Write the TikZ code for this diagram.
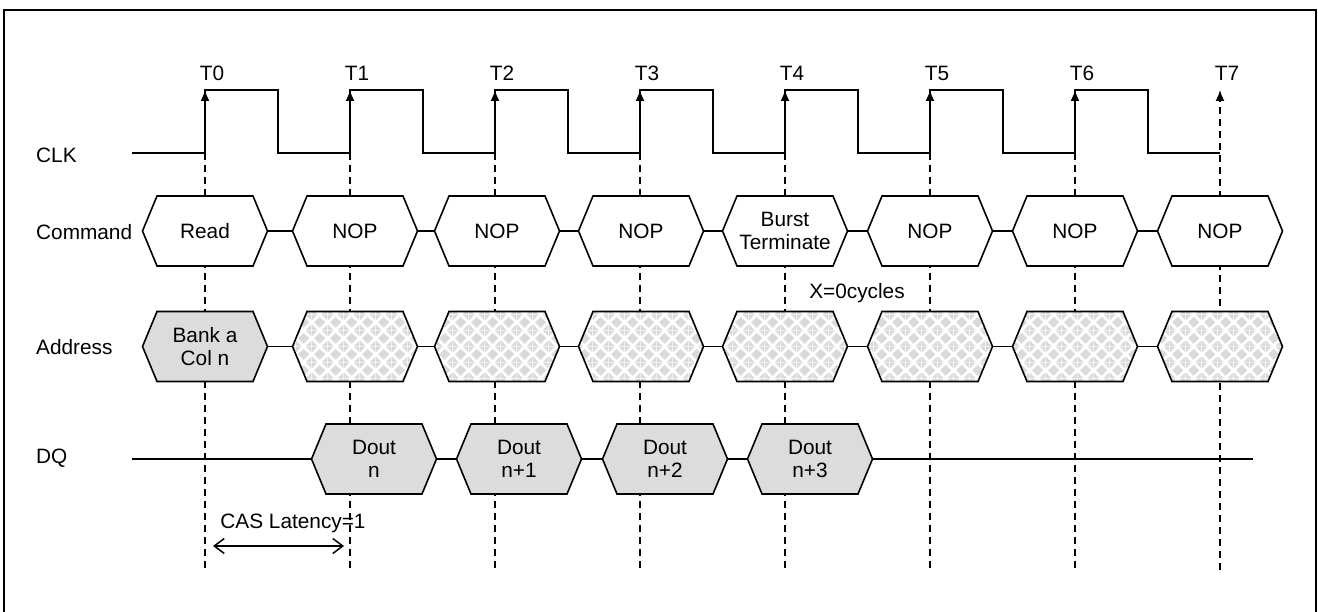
\documentclass[tikz,border=0pt]{standalone}
\usepackage{fontspec}
\setmainfont{Liberation Sans}
\usetikzlibrary{shapes.symbols,arrows.meta,patterns}
\definecolor{hexgray}{HTML}{DCDCDC}
\definecolor{patgray}{HTML}{DADADA}
\pgfdeclarepatternformonly{chkdiam}{\pgfpointorigin}{\pgfqpoint{15.6pt}{15.6pt}}{\pgfqpoint{15.6pt}{15.6pt}}{%
  \pgfpathmoveto{\pgfqpoint{7.8pt}{2.2pt}}\pgfpathlineto{\pgfqpoint{13.4pt}{7.8pt}}\pgfpathlineto{\pgfqpoint{7.8pt}{13.4pt}}\pgfpathlineto{\pgfqpoint{2.2pt}{7.8pt}}\pgfpathclose
  \pgfpathmoveto{\pgfqpoint{0pt}{0pt}}\pgfpathlineto{\pgfqpoint{5.6pt}{0pt}}\pgfpathlineto{\pgfqpoint{0pt}{5.6pt}}\pgfpathclose
  \pgfpathmoveto{\pgfqpoint{15.6pt}{0pt}}\pgfpathlineto{\pgfqpoint{10pt}{0pt}}\pgfpathlineto{\pgfqpoint{15.6pt}{5.6pt}}\pgfpathclose
  \pgfpathmoveto{\pgfqpoint{0pt}{15.6pt}}\pgfpathlineto{\pgfqpoint{5.6pt}{15.6pt}}\pgfpathlineto{\pgfqpoint{0pt}{10pt}}\pgfpathclose
  \pgfpathmoveto{\pgfqpoint{15.6pt}{15.6pt}}\pgfpathlineto{\pgfqpoint{10pt}{15.6pt}}\pgfpathlineto{\pgfqpoint{15.6pt}{10pt}}\pgfpathclose
  \pgfusepath{fill}}
\tikzset{
  sig/.style={line width=1.6pt, line join=miter},
  dashline/.style={line width=1.6pt, dash pattern=on 7pt off 5pt},
  lbl/.style={font=\fontsize{20.8}{23}\selectfont, inner sep=0pt},
  hexa/.style={signal, signal to=east and west, signal pointer angle=135,
    draw, line width=1.6pt, minimum width=125pt, minimum height=70pt,
    inner sep=0pt, align=center, font=\fontsize{20.8}{23}\selectfont, fill=white},
  grayhex/.style={hexa, fill=hexgray},
  pathex/.style={hexa, preaction={fill=white}, pattern=chkdiam, pattern color=patgray},
  edgearrow/.style={sig, -{Latex[length=11pt,width=9pt]}},
  latarrow/.style={line width=1.5pt, {Straight Barb[length=10pt,width=15pt]}-{Straight Barb[length=10pt,width=15pt]}}
}
\begin{document}
\begin{tikzpicture}[x=1pt,y=-1pt]
\useasboundingbox (0,0) rectangle (1318,612);
\draw[line width=2pt] (4,10) rectangle (1316,614);

% row labels
\node[lbl, anchor=west] (lclk) at (36,155) {CLK};
\node[lbl, anchor=west] (lcmd) at (36,232) {Command};
\node[lbl, anchor=west] (ladr) at (36,347) {Address};
\node[lbl, anchor=west] (ldq)  at (36,458) {DQ};

% time coordinates and dashed guide lines
\foreach \i in {0,...,7}{
  \coordinate (t\i) at ({205+145*\i},153);
  \coordinate (b\i) at ({205+145*\i},570);
}
\foreach \i in {0,...,6}{
  \draw[dashline] (t\i) -- (b\i);
}
\draw[dashline, -{Latex[length=11pt,width=9pt]}] (b7) -- (1220,90);

% clock waveform
\coordinate (cstart) at (132,153);
\draw[sig] (cstart)
  \foreach \i in {0,...,6}{ -- ({205+145*\i},153) -- ({205+145*\i},90) -- ({278+145*\i},90) -- ({278+145*\i},153) }
  -- (t7);
\foreach \i in {0,...,6}{
  \draw[edgearrow] (t\i) -- ({205+145*\i},90);
}
\foreach \i in {0,...,7}{
  \node[lbl] (tl\i) at ({212+145*\i},73) {T\i};
}

% command row
\node[hexa] (c0) at (205,231) {Read};
\node[hexa] (c1) at (355,231) {NOP};
\node[hexa] (c2) at (497,231) {NOP};
\node[hexa] (c3) at (641,231) {NOP};
\node[hexa] (c4) at (785,231) {Burst\\Terminate};
\node[hexa] (c5) at (930,231) {NOP};
\node[hexa] (c6) at (1075,231) {NOP};
\node[hexa] (c7) at (1220,231) {NOP};
\foreach \a/\b in {0/1,1/2,2/3,3/4,4/5,5/6,6/7}{
  \draw[sig] (c\a.east) -- (c\b.west);
}

\node[lbl] (xcyc) at (857,293) {X=0cycles};

% address row
\node[grayhex] (a0) at (205,346.5) {Bank a\\Col n};
\node[pathex] (a1) at (355,346.5) {};
\node[pathex] (a2) at (497,346.5) {};
\node[pathex] (a3) at (641,346.5) {};
\node[pathex] (a4) at (785,346.5) {};
\node[pathex] (a5) at (930,346.5) {};
\node[pathex] (a6) at (1075,346.5) {};
\node[pathex] (a7) at (1220,346.5) {};
\foreach \a/\b in {0/1,1/2,2/3,3/4,4/5,5/6,6/7}{
  \draw[sig] (a\a.east) -- (a\b.west);
}

% DQ row
\coordinate (dqs) at (132,459);
\coordinate (dqe) at (1253,459);
\node[grayhex] (d0) at (374,459) {Dout\\n};
\node[grayhex] (d1) at (519,459) {Dout\\n+1};
\node[grayhex] (d2) at (665,459) {Dout\\n+2};
\node[grayhex] (d3) at (810,459) {Dout\\n+3};
\draw[sig] (dqs) -- (d0.west);
\draw[sig] (d0.east) -- (d1.west);
\draw[sig] (d1.east) -- (d2.west);
\draw[sig] (d2.east) -- (d3.west);
\draw[sig] (d3.east) -- (dqe);

% CAS latency
\node[lbl] (cas) at (293,523) {CAS Latency=1};
\coordinate (casl) at (213,546);
\coordinate (casr) at (344,546);
\draw[latarrow] (casl) -- (casr);
\end{tikzpicture}
\end{document}
